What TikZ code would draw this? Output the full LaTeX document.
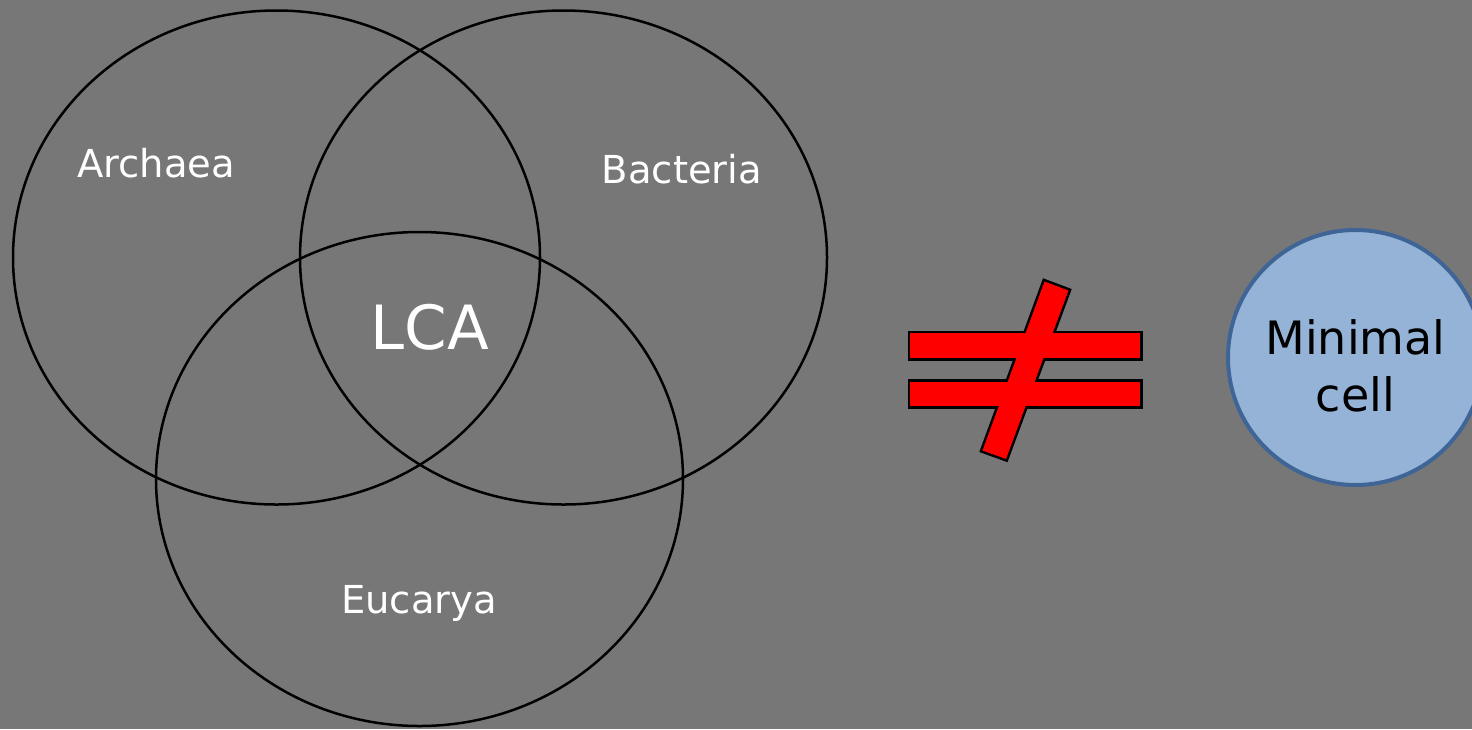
\documentclass[tikz,border=0pt]{standalone}
\usepackage{fontspec}
\setmainfont{DejaVu Sans}
\usetikzlibrary{shapes.geometric}
\definecolor{slidegray}{HTML}{777777}
\definecolor{cellfill}{HTML}{95B3D7}
\definecolor{cellline}{HTML}{3F6596}
\tikzset{
  domring/.style={ellipse, draw=black, line width=2.5pt, minimum width=527pt, minimum height=494pt, inner sep=0pt},
  domlabel/.style={text=white, font=\fontsize{38.5}{46}\selectfont, inner sep=0pt, anchor=base},
}
\newcommand{\barone}{(910,333) rectangle (1140,358)}
\newcommand{\bartwo}{(910,381.5) rectangle (1140,406)}
\newcommand{\slashbar}{(1044.5,281.5) -- (1068.5,290.5) -- (1006,459) -- (982.5,450.5) -- cycle}

\begin{document}
\begin{tikzpicture}[x=1pt,y=-1pt]
    \fill[slidegray] (0,0) rectangle (1472,729);
    \useasboundingbox (0,0) rectangle (1472,729);
    \node[domring] (arch) at (276.5,257.5) {};
    \node[domring] (bact) at (563.5,257.5) {};
    \node[domring] (euca) at (419.5,479) {};
    \node[domlabel] (archtxt) at (156,177.7) {Archaea};
    \node[domlabel] (bacttxt) at (682,183.3) {Bacteria};
    \node[domlabel] (eucatxt) at (419,613.3) {Eucarya};
    \node[domlabel, font=\fontsize{61}{70}\selectfont] (lca) at (430,349) {LCA};
    % not equal sign: thick outline first, red fill on top
    \draw[black, line width=5pt] \barone;
    \draw[black, line width=5pt] \bartwo;
    \draw[black, line width=5pt] \slashbar;
    \fill[red] \barone;
    \fill[red] \bartwo;
    \fill[red] \slashbar;
    \node[circle, draw=cellline, line width=4pt, fill=cellfill, minimum size=255pt, inner sep=0pt] (cell) at (1355.5,357.5) {};
    \node[font=\fontsize{46}{57}\selectfont, align=center, anchor=base, inner sep=0pt] (celltxt) at (1355.5,411.7) {Minimal\\cell};
\end{tikzpicture}
\end{document}
